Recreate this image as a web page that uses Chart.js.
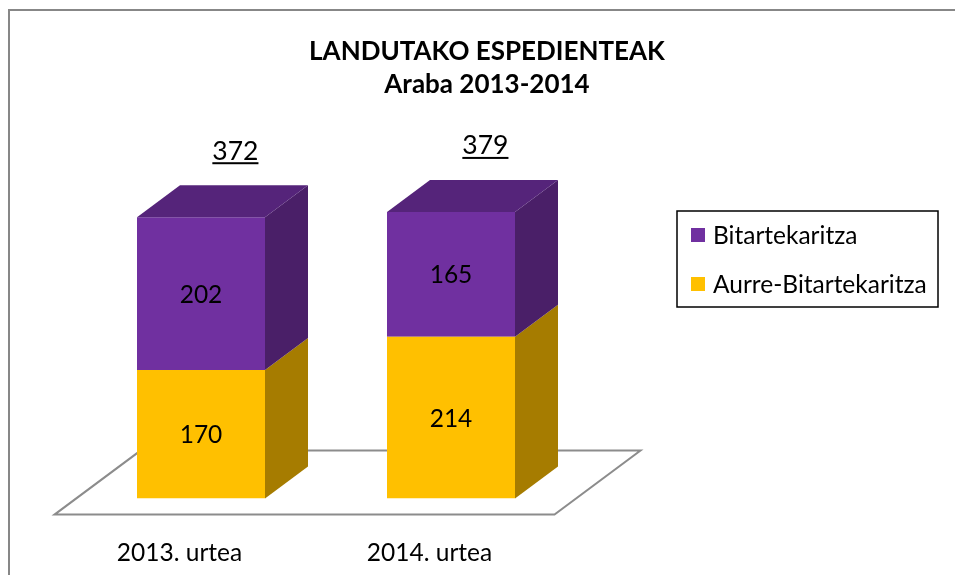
<!DOCTYPE html>
<html>
<head>
<meta charset="utf-8">
<title>Landutako espedienteak</title>
<script src="https://cdn.jsdelivr.net/npm/chart.js@4/dist/chart.umd.min.js"></script>
<style>
  html, body { margin: 0; padding: 0; background: #fff; }
  #wrap { width: 955px; height: 575px; position: relative; }
</style>
</head>
<body>
<div id="wrap"><canvas id="expChart"></canvas></div>
<script>
// Data
const years = ['2013. urtea', '2014. urtea'];
const aurreBitartekaritza = [170, 214];
const bitartekaritza = [202, 165];
const titleLines = ['LANDUTAKO ESPEDIENTEAK', 'Araba 2013-2014'];

const FONT = 'Lato, "Open Sans", sans-serif';
// depth of the 3D boxes (x to the right, y upwards)
const DX = 43, DY = -32;

const ctxEl = document.getElementById('expChart');

// draws the frame, the floor, the box sides/tops, labels and the legend
const box3d = {
    id: 'box3d',
    beforeDraw(chart) {
        const ctx = chart.ctx;
        ctx.save();
        ctx.strokeStyle = '#878787';
        ctx.lineWidth = 2;
        ctx.beginPath();
        ctx.moveTo(9, chart.height + 2);
        ctx.lineTo(9, 10);
        ctx.lineTo(chart.width + 2, 10);
        ctx.stroke();
        ctx.restore();
    },
    beforeDatasetsDraw(chart) {
        const a = chart.chartArea;
        const ctx = chart.ctx;
        ctx.save();
        ctx.beginPath();
        ctx.moveTo(a.left - DX / 2, a.bottom - DY / 2);
        ctx.lineTo(a.right - DX / 2, a.bottom - DY / 2);
        ctx.lineTo(a.right + DX * 1.5, a.bottom + DY * 1.5);
        ctx.lineTo(a.left + DX * 1.5, a.bottom + DY * 1.5);
        ctx.closePath();
        ctx.fillStyle = '#ffffff';
        ctx.fill();
        ctx.strokeStyle = '#8c8c8c';
        ctx.lineWidth = 2;
        ctx.stroke();
        ctx.restore();
    },
    afterDatasetsDraw(chart) {
        const ctx = chart.ctx;
        const sets = chart.data.datasets;
        const last = sets.length - 1;
        ctx.save();
        sets.forEach((ds, i) => {
            chart.getDatasetMeta(i).data.forEach((bar) => {
                const p = bar.getProps(['x', 'y', 'base', 'width'], true);
                const l = p.x - p.width / 2, r = p.x + p.width / 2;
                // right side
                ctx.fillStyle = ds.sideColor;
                ctx.beginPath();
                ctx.moveTo(r, p.y);
                ctx.lineTo(r + DX, p.y + DY);
                ctx.lineTo(r + DX, p.base + DY);
                ctx.lineTo(r, p.base);
                ctx.closePath();
                ctx.fill();
                // top face only on the upper segment
                if (i === last) {
                    ctx.fillStyle = ds.topColor;
                    ctx.beginPath();
                    ctx.moveTo(l, p.y);
                    ctx.lineTo(l + DX, p.y + DY);
                    ctx.lineTo(r + DX, p.y + DY);
                    ctx.lineTo(r, p.y);
                    ctx.closePath();
                    ctx.fill();
                }
            });
        });

        // values inside the segments
        ctx.fillStyle = '#000';
        ctx.textAlign = 'center';
        ctx.textBaseline = 'middle';
        ctx.font = '24.5px ' + FONT;
        sets.forEach((ds, i) => {
            chart.getDatasetMeta(i).data.forEach((bar, j) => {
                const p = bar.getProps(['x', 'y', 'base'], true);
                ctx.fillText(String(ds.data[j]), p.x, (p.y + p.base) / 2 + 1);
            });
        });

        // totals, underlined, above each box
        ctx.font = '26.5px ' + FONT;
        chart.getDatasetMeta(last).data.forEach((bar, j) => {
            const total = sets.reduce((s, ds) => s + ds.data[j], 0);
            const p = bar.getProps(['x', 'y'], true);
            const tx = p.x + DX * 0.8;
            const ty = p.y + DY - 34;
            const txt = String(total);
            const w = ctx.measureText(txt).width;
            ctx.fillText(txt, tx, ty);
            ctx.fillRect(tx - w / 2, ty + 11, w, 2);
        });

        // legend with frame
        const lg = { left: 677, top: 211, width: 261, height: 96 };
        ctx.strokeStyle = '#000';
        ctx.lineWidth = 1.5;
        ctx.strokeRect(lg.left, lg.top, lg.width, lg.height);
        ctx.font = '24.5px ' + FONT;
        ctx.textAlign = 'left';
        const order = sets.map((ds, i) => i).reverse();
        order.forEach((i, k) => {
            const cy = lg.top + 24 + k * 49;
            ctx.fillStyle = sets[i].backgroundColor;
            ctx.fillRect(lg.left + 14, cy - 7, 14, 14);
            ctx.fillStyle = '#000';
            ctx.fillText(sets[i].label, lg.left + 36, cy + 1);
        });
        ctx.restore();
    }
};

const chart = new Chart(ctxEl, {
    type: 'bar',
    data: {
        labels: years,
        datasets: [{
            label: 'Aurre-Bitartekaritza',
            data: aurreBitartekaritza,
            backgroundColor: '#FFC000',
            sideColor: '#A67C00',
            topColor: '#BF9000',
            barPercentage: 0.512,
            categoryPercentage: 1
        }, {
            label: 'Bitartekaritza',
            data: bitartekaritza,
            backgroundColor: '#7030A0',
            sideColor: '#4A1F68',
            topColor: '#55247A',
            barPercentage: 0.512,
            categoryPercentage: 1
        }]
    },
    options: {
        responsive: true,
        maintainAspectRatio: false,
        animation: false,
        layout: {
            padding: { left: 8, right: -11, top: 0, bottom: -33 }
        },
        plugins: {
            legend: { display: false },
            tooltip: { enabled: false },
            title: {
                display: true,
                text: titleLines,
                color: '#000',
                font: { family: FONT, size: 26, weight: 'bold', lineHeight: 1.27 },
                padding: { top: 35.5, bottom: 94.5 }
            }
        },
        scales: {
            x: {
                stacked: true,
                grid: { display: false, drawTicks: false },
                border: { display: false },
                ticks: {
                    color: '#000',
                    font: { family: FONT, size: 24.5 },
                    padding: 40,
                    labelOffset: -DX / 2,
                    maxRotation: 0
                }
            },
            y: {
                stacked: true,
                min: 0,
                max: 400,
                grid: { display: false, drawTicks: false },
                border: { display: false },
                ticks: { display: false },
                afterFit: (s) => { s.width = 68; }
            },
            yRight: {
                position: 'right',
                grid: { display: false, drawTicks: false },
                border: { display: false },
                ticks: { display: false },
                afterFit: (s) => { s.width = 390; }
            }
        }
    },
    plugins: [box3d]
});
</script>
</body>
</html>
